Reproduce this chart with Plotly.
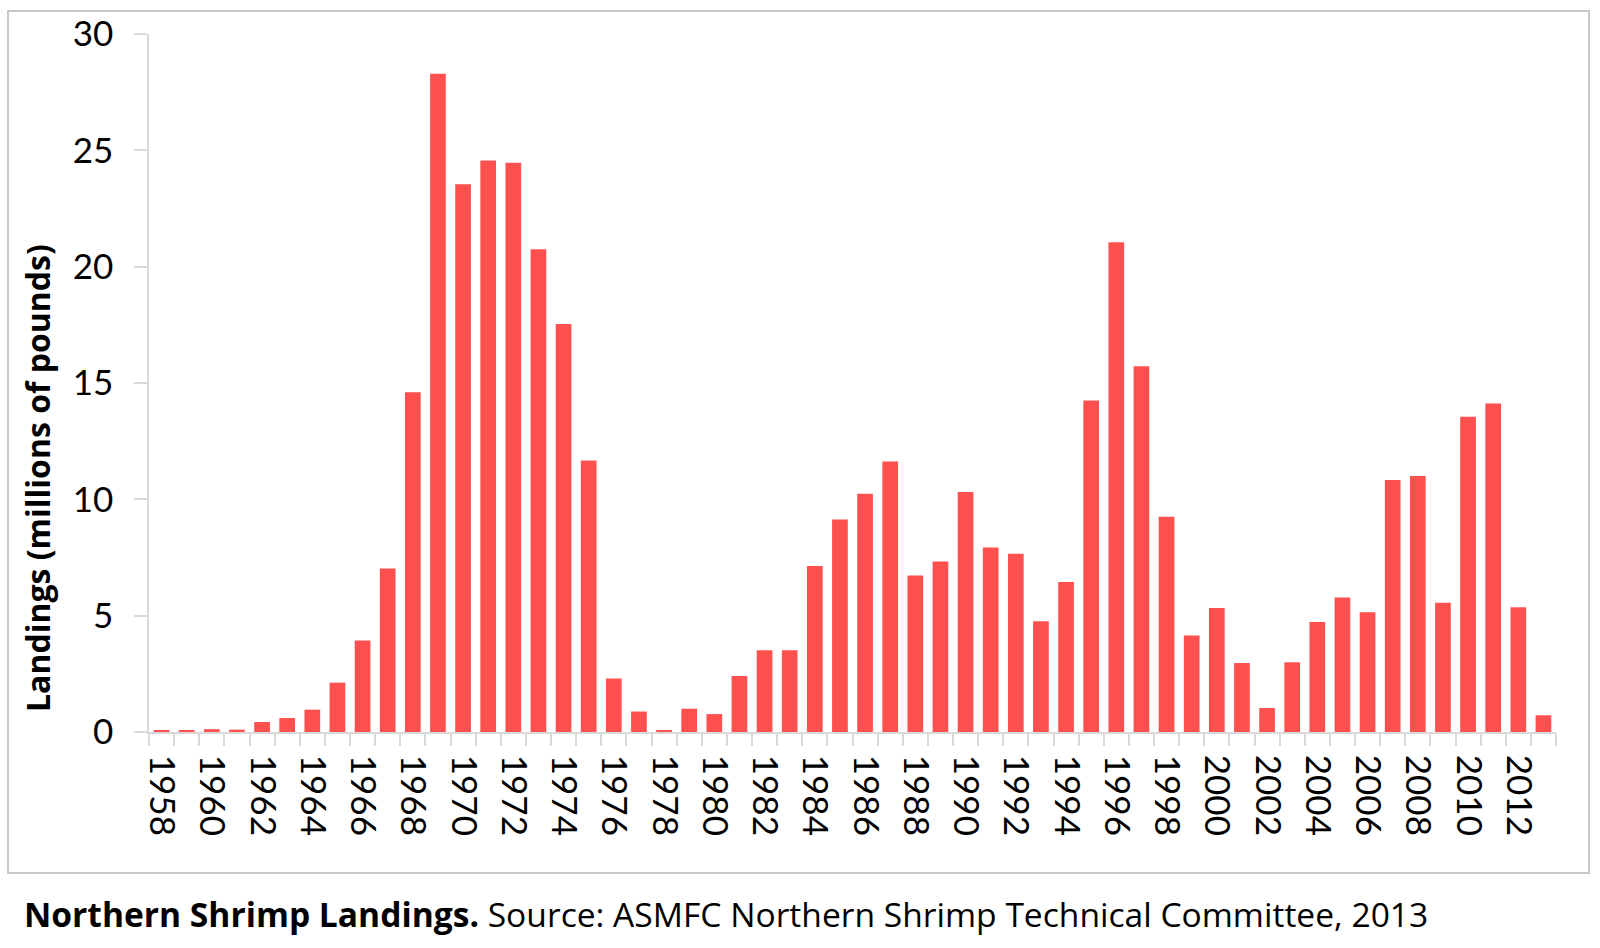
import plotly.graph_objects as go

years = list(range(1958, 2014))
landings = [
    0.05, 0.05, 0.12, 0.1, 0.43, 0.6, 0.96, 2.12, 3.93, 7.03,
    14.6, 28.29, 23.54, 24.56, 24.47, 20.75, 17.54, 11.67, 2.3, 0.88,
    0.05, 1.0, 0.77, 2.41, 3.51, 3.51, 7.14, 9.13, 10.24, 11.63,
    6.73, 7.33, 10.31, 7.93, 7.66, 4.76, 6.45, 14.25, 21.05, 15.72,
    9.25, 4.15, 5.33, 2.97, 1.03, 3.0, 4.73, 5.78, 5.15, 10.83,
    11.0, 5.55, 13.55, 14.12, 5.36, 0.72,
]
tick_years = list(range(1958, 2013, 2))
tick_labels = [str(y) for y in tick_years]
y_ticks = [0, 5, 10, 15, 20, 25, 30]

W, H = 1600, 948
L, R, T, B = 149, 44, 34, 216
PW, PH = W - L - R, H - T - B


def px_x(p):
    return (p - L) / PW


def px_y(p):
    return (H - B - p) / PH


FONT = "Lato"
TEXT_FONT = "Open Sans"
AXIS_COLOR = "#d9d9d9"

fig = go.Figure()
fig.add_trace(go.Bar(x=years, y=landings, marker=dict(color="#FF5050", line=dict(width=0)),
                     hoverinfo="x+y"))

fig.update_layout(
    width=W, height=H,
    margin=dict(l=L, r=R, t=T, b=B, pad=0),
    paper_bgcolor="white", plot_bgcolor="white",
    bargap=0.375,
    showlegend=False,
    font=dict(family=FONT, color="black"),
)
fig.update_xaxes(
    range=[1957.5, 2013.5],
    tickmode="array", tickvals=tick_years, ticktext=tick_labels,
    tickangle=90, tickfont=dict(size=35, family=FONT, color="black"),
    ticks="", ticklabelstandoff=14,
    minor=dict(ticks="outside", tick0=1957.5, dtick=1, ticklen=12,
               tickcolor=AXIS_COLOR, tickwidth=1.5),
    showline=True, linecolor=AXIS_COLOR, linewidth=1.5,
    showgrid=False, zeroline=False,
)
fig.update_yaxes(
    range=[0, 30], tickmode="array", tickvals=y_ticks,
    tickfont=dict(size=35, family=FONT, color="black"),
    ticks="outside", ticklen=13, tickcolor=AXIS_COLOR, tickwidth=1.5,
    ticklabelstandoff=14,
    showline=True, linecolor=AXIS_COLOR, linewidth=1.5,
    showgrid=False, zeroline=False,
)

# outer chart border
fig.add_shape(type="rect", xref="paper", yref="paper",
              x0=px_x(8), x1=px_x(1589), y0=px_y(873), y1=px_y(11),
              line=dict(color="#c8c8c8", width=2), fillcolor="rgba(0,0,0,0)", layer="below")

# y-axis title
fig.add_annotation(text="<b>Landings (millions of pounds)</b>", textangle=-90,
                   xref="paper", yref="paper", x=px_x(37), y=px_y(478),
                   xanchor="center", yanchor="middle", showarrow=False,
                   font=dict(size=32, family=TEXT_FONT, color="black"))

# caption
fig.add_annotation(text="<b>Northern Shrimp Landings.</b> Source: ASMFC Northern Shrimp Technical Committee, 2013",
                   xref="paper", yref="paper", x=px_x(22), y=px_y(914),
                   xanchor="left", yanchor="middle", showarrow=False,
                   font=dict(size=33.6, family=TEXT_FONT, color="black"))

fig.write_html("out.html", config={"displayModeBar": False},
               post_script="document.body.style.margin='0';")
